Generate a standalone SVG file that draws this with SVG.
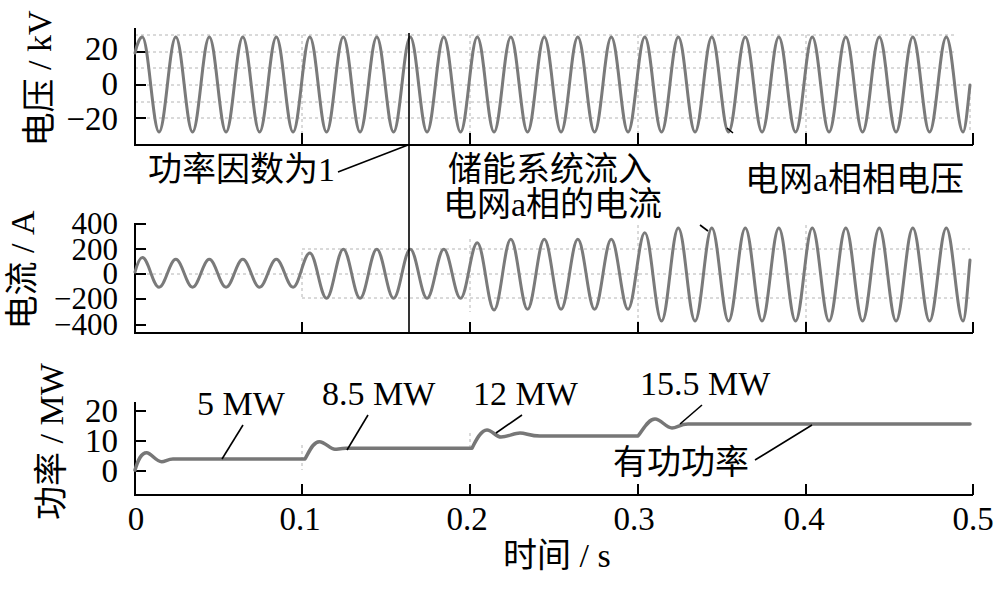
<svg xmlns="http://www.w3.org/2000/svg" width="1000" height="608" viewBox="0 0 1000 608">
<style>
  .bg{fill:#ffffff}
  .axis{fill:none;stroke:#000;stroke-width:2}
  .grid{fill:none;stroke:#b4b4b4;stroke-width:1;stroke-dasharray:3 3}
  .wave{fill:none;stroke:#7a7a7a;stroke-width:3;stroke-linejoin:round;stroke-linecap:round}
  .pwave{fill:none;stroke:#777;stroke-width:3.5;stroke-linejoin:round;stroke-linecap:round}
  .lead{fill:none;stroke:#000;stroke-width:1.6}
  .lbl{font-family:'Liberation Serif','Noto Sans CJK SC',serif;font-size:34px;fill:#000}
  .tick{font-family:'Liberation Serif',serif;font-size:33px;fill:#000}
  .tight{font-size:31px}
  .end{text-anchor:end}
  .mid{text-anchor:middle}
</style>
<rect class="bg" x="0" y="0" width="1000" height="608"/>

<g id="grid">
  <path class="grid" d="M135,35H957 M135,52H957 M135,68H957 M135,85H970 M135,102H957 M135,118H957 M302,35V133 M470,35V133 M638,35V133 M806,35V133 M970,85V130"/>
  <path class="grid" d="M302,249H970 M135,274H970 M302,298H970 M302,252V298 M470,239V312 M638,225V322 M806,225V322"/>
  <path class="grid" d="M302,445V470 M470,433V450"/>
</g>

<g id="panel-voltage">
  <path class="axis" d="M135,28V145H973 M135,52H146 M135,85H146 M135,118H146 M302,133V145 M470,133V145 M638,133V145 M806,133V145 M973,133V145"/>
  <text class="tick end" x="118" y="60">20</text>
  <text class="tick end" x="118" y="95">0</text>
  <text class="tick end" x="118" y="130">−20</text>
  <text class="lbl mid" transform="translate(51,78.5) rotate(-90)">电压 / kV</text>
</g>

<g id="panel-current">
  <path class="axis" d="M135,223V333H973 M135,224H146 M135,249H146 M135,274H146 M135,299H146 M135,325H146 M302,322V333 M470,322V333 M638,322V333 M806,322V333 M973,322V333"/>
  <text class="tick tight end" x="118" y="234">400</text>
  <text class="tick tight end" x="118" y="260">200</text>
  <text class="tick tight end" x="118" y="284">0</text>
  <text class="tick tight end" x="118" y="309">−200</text>
  <text class="tick tight end" x="118" y="335">−400</text>
  <text class="lbl mid" transform="translate(34,270) rotate(-90)">电流 / A</text>
</g>

<g id="panel-power">
  <path class="axis" d="M135,402V495H973 M135,411H146 M135,441H146 M135,471H146 M302,484V495 M470,484V495 M638,484V495 M806,484V495 M973,484V495"/>
  <text class="tick end" x="118" y="422">20</text>
  <text class="tick end" x="118" y="452">10</text>
  <text class="tick end" x="118" y="482">0</text>
  <text class="lbl mid" transform="translate(63,441.5) rotate(-90)">功率 / MW</text>
  <text class="tick mid" x="136" y="530">0</text>
  <text class="tick mid" x="300" y="530">0.1</text>
  <text class="tick mid" x="467" y="530">0.2</text>
  <text class="tick mid" x="634" y="530">0.3</text>
  <text class="tick mid" x="804" y="530">0.4</text>
  <text class="tick mid" x="973" y="530">0.5</text>
  <text class="lbl" x="503" y="567">时间 / s</text>
</g>

<g id="waveforms">
  <path id="voltage-wave" class="wave" d="M135,53 C137,44 140,37 142.3,37 c6.09,0 10.66,95 16.75,95
   s10.66,-95 16.75,-95 s10.66,95 16.75,95 s10.66,-95 16.75,-95 s10.66,95 16.75,95 s10.66,-95 16.75,-95 s10.66,95 16.75,95 s10.66,-95 16.75,-95 s10.66,95 16.75,95
   s10.66,-95 16.75,-95 s10.66,95 16.75,95 s10.66,-95 16.75,-95 s10.66,95 16.75,95 s10.66,-95 16.75,-95 s10.66,95 16.75,95 s10.66,-95 16.75,-95 s10.66,95 16.75,95
   s10.66,-95 16.75,-95 s10.66,95 16.75,95 s10.66,-95 16.75,-95 s10.66,95 16.75,95 s10.66,-95 16.75,-95 s10.66,95 16.75,95 s10.66,-95 16.75,-95 s10.66,95 16.75,95
   s10.66,-95 16.75,-95 s10.66,95 16.75,95 s10.66,-95 16.75,-95 s10.66,95 16.75,95 s10.66,-95 16.75,-95 s10.66,95 16.75,95 s10.66,-95 16.75,-95 s10.66,95 16.75,95
   s10.66,-95 16.75,-95 s10.66,95 16.75,95 s10.66,-95 16.75,-95 s10.66,95 16.75,95 s10.66,-95 16.75,-95 s10.66,95 16.75,95 s10.66,-95 16.75,-95 s10.66,95 16.75,95
   s10.66,-95 16.75,-95 s10.66,95 16.75,95 s10.66,-95 16.75,-95 s10.66,95 16.75,95 s10.66,-95 16.75,-95 s10.66,95 16.75,95 s10.66,-95 16.75,-95 s10.66,95 16.75,95
   c2.5,0 5,-30 6.95,-47"/>
  <path id="current-wave" class="wave" d="M135,272 C137.5,263 140,257.5 142.3,257.5 c6.09,0 10.66,29.8 16.75,29.8
   s10.66,-28 16.75,-28 s10.66,28 16.75,28 s10.66,-28 16.75,-28 s10.66,28 16.75,28
   s10.66,-28 16.75,-28 s10.66,28 16.75,28 s10.66,-28 16.75,-28 s10.66,28 16.75,28
   s10.66,-34.3 16.75,-34.3 s10.66,45.3 16.75,45.3
   s10.66,-49 16.75,-49 s10.66,49 16.75,49 s10.66,-49 16.75,-49 s10.66,49 16.75,49
   s10.66,-49 16.75,-49 s10.66,49 16.75,49 s10.66,-49 16.75,-49 s10.66,49 16.75,49
   s10.66,-55.6 16.75,-55.6 s10.66,67.3 16.75,67.3
   s10.66,-70.7 16.75,-70.7 s10.66,70 16.75,70
   s10.66,-70 16.75,-70 s10.66,70 16.75,70 s10.66,-70 16.75,-70 s10.66,70 16.75,70 s10.66,-70 16.75,-70 s10.66,70 16.75,70
   s10.66,-76.6 16.75,-76.6 s10.66,88.3 16.75,88.3
   s10.66,-93 16.75,-93 s10.66,93 16.75,93 s10.66,-93 16.75,-93 s10.66,93 16.75,93 s10.66,-93 16.75,-93 s10.66,93 16.75,93
   s10.66,-93 16.75,-93 s10.66,93 16.75,93 s10.66,-93 16.75,-93 s10.66,93 16.75,93 s10.66,-93 16.75,-93 s10.66,93 16.75,93
   s10.66,-93 16.75,-93 s10.66,93 16.75,93 s10.66,-93 16.75,-93 s10.66,93 16.75,93 s10.66,-93 16.75,-93 s10.66,93 16.75,93
   c2.5,0 5,-40 6.95,-61"/>
  <path id="power-wave" class="pwave" d="M135,470 C138,460 141,452.7 146.7,452.7 C151,452.7 156,461.7 161.7,461.7 C165,461.7 168,459 173,459 L305,459
   C309,452 313,441.7 319.3,441.7 C325,441.7 330,449.3 335,449.3 C338,449.3 340,448.3 346,448.3 L472,448.3
   C476,440 481,430 487,430 C492,430 496,437 501,437 C508,437 514,433 520,433 C526,433 530,436 540,436 L638,436
   C643,430 648,419 655,419 C661,419 666,428 672,428 C677,428 680,424 688,424 L970,424"/>
</g>

<g id="connectors">
  <path class="lead" d="M409,33V333"/>
  <path class="lead" d="M338,172L408,145"/>
  <path class="lead" d="M727,128L733,133"/>
  <path class="lead" d="M700,225L708,231"/>
  <path class="lead" d="M243,425L222,459"/>
  <path class="lead" d="M368,415L347,450"/>
  <path class="lead" d="M522,415L496,433"/>
  <path class="lead" d="M702,405L680,424"/>
  <path class="lead" d="M755,460L812,425"/>
</g>

<g id="annotations">
  <text class="lbl" x="148" y="181">功率因数为1</text>
  <text class="lbl" x="448" y="181">储能系统流入</text>
  <text class="lbl" x="443" y="216">电网a相的电流</text>
  <text class="lbl" x="745" y="191">电网a相相电压</text>
  <text class="lbl" x="197" y="415">5 MW</text>
  <text class="lbl" x="322" y="405">8.5 MW</text>
  <text class="lbl" x="473" y="405">12 MW</text>
  <text class="lbl" x="640" y="395">15.5 MW</text>
  <text class="lbl" x="613" y="474">有功功率</text>
</g>
</svg>
